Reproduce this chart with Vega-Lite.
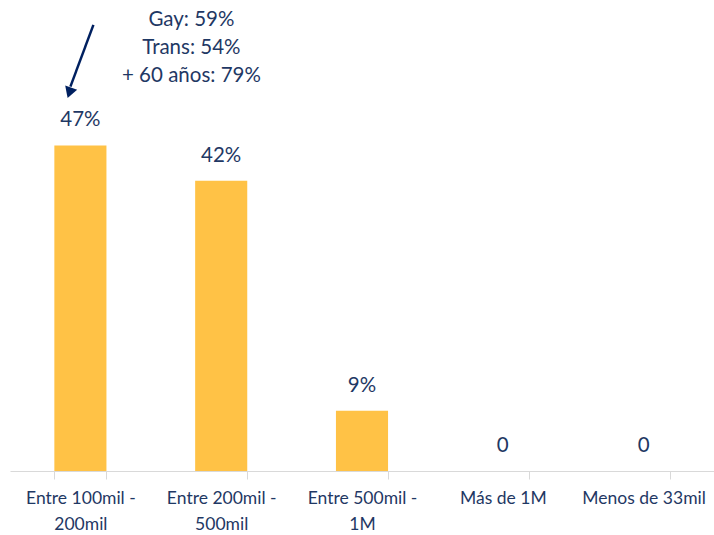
{
  "$schema": "https://vega.github.io/schema/vega-lite/v6.json",
  "autosize": {"type": "none"},
  "padding": {"left": 10, "top": 0, "right": 0, "bottom": 64},
  "width": 704,
  "height": 471,
  "background": "white",
  "config": {"view": {"stroke": null}, "font": "Lato"},
  "datasets": {
    "bars": [
      {"cat": "Entre 100mil - 200mil", "value": 47, "label": "47%"},
      {"cat": "Entre 200mil - 500mil", "value": 41.9, "label": "42%"},
      {"cat": "Entre 500mil - 1M", "value": 8.7, "label": "9%"},
      {"cat": "Más de 1M", "value": 0, "label": "0"},
      {"cat": "Menos de 33mil", "value": 0, "label": "0"}
    ],
    "note": [
      {"cat": "Entre 100mil - 200mil", "y": 65.1, "text": "Gay: 59%"},
      {"cat": "Entre 100mil - 200mil", "y": 61.1, "text": "Trans: 54%"},
      {"cat": "Entre 100mil - 200mil", "y": 57.0, "text": "+ 60 años: 79%"}
    ],
    "arrow": [
      {"cat": "Entre 100mil - 200mil", "y1": 64.4, "y2": 55.5, "yh": 54.6}
    ]
  },
  "encoding": {
    "x": {
      "field": "cat", "type": "nominal", "sort": null,
      "scale": {"paddingInner": 0.63, "paddingOuter": 0.315},
      "axis": {
        "title": null, "labelAngle": 0, "tickBand": "extent",
        "domainColor": "#d9d9d9", "tickColor": "#d9d9d9", "tickSize": 8,
        "labelFontSize": 17.5, "labelFontWeight": 400, "labelColor": "#1F3864", "labelPadding": 10,
        "labelLineHeight": 26, "labelFont": "Lato",
        "labelExpr": "indexof(datum.label,' - ')>=0 ? [slice(datum.label,0,indexof(datum.label,' - ')+2), slice(datum.label,indexof(datum.label,' - ')+3)] : datum.label"
      }
    }
  },
  "layer": [
    {
      "data": {"name": "bars"},
      "mark": {"type": "bar", "color": "#FFC246"},
      "encoding": {
        "y": {"field": "value", "type": "quantitative", "scale": {"domain": [0, 68], "nice": false}, "axis": null}
      }
    },
    {
      "data": {"name": "bars"},
      "mark": {"type": "text", "fontSize": 20.5, "fontWeight": 400, "color": "#1F3864", "baseline": "middle", "dy": -25},
      "encoding": {
        "y": {"field": "value", "type": "quantitative"},
        "text": {"field": "label"}
      }
    },
    {
      "data": {"name": "note"},
      "mark": {"type": "text", "fontSize": 20.5, "fontWeight": 400, "color": "#1F3864", "baseline": "middle", "dx": 111},
      "encoding": {
        "y": {"field": "y", "type": "quantitative"},
        "text": {"field": "text"}
      }
    },
    {
      "data": {"name": "arrow"},
      "mark": {"type": "rule", "color": "#002060", "strokeWidth": 2.5, "xOffset": 13, "x2Offset": -10},
      "encoding": {
        "x2": {"field": "cat"},
        "y": {"field": "y1", "type": "quantitative"},
        "y2": {"field": "y2"}
      }
    },
    {
      "data": {"name": "arrow"},
      "mark": {"type": "point", "shape": "triangle-down", "filled": true, "color": "#002060", "opacity": 1, "size": 160, "angle": 19, "xOffset": -11},
      "encoding": {
        "y": {"field": "yh", "type": "quantitative"}
      }
    }
  ]
}
